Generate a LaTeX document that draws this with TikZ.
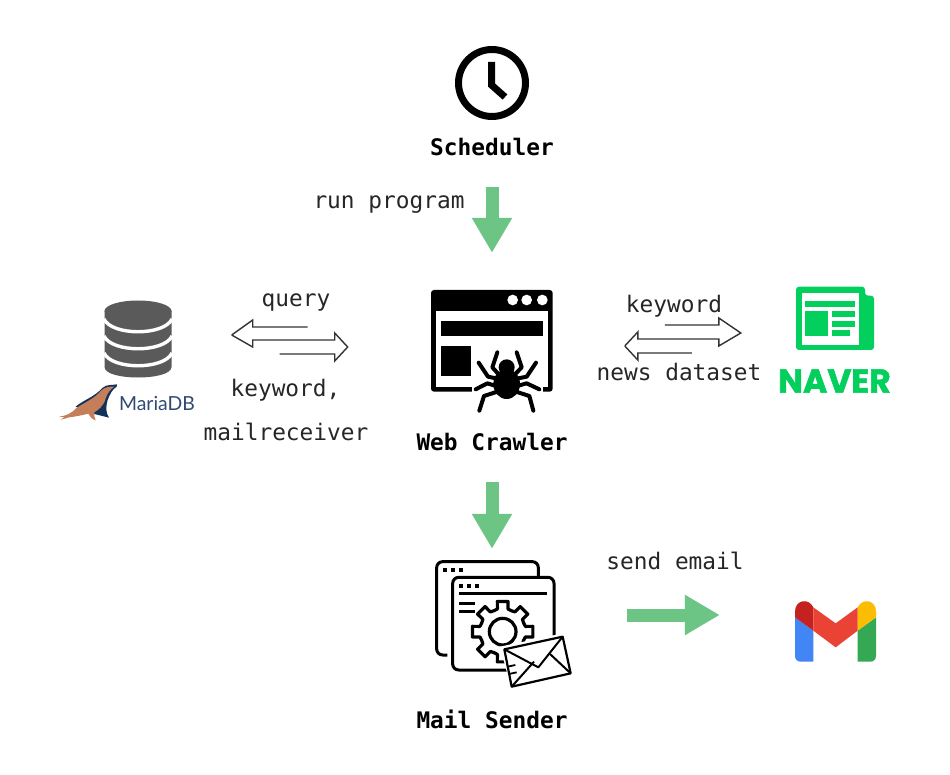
\documentclass[tikz,border=0pt]{standalone}
\usepackage{fontspec}
\setmonofont{DejaVu Sans Mono}
\newfontfamily\mariafont{Lato}
\newfontfamily\naverfont[BoldFeatures={FakeBold=1.6}]{Poppins}
\usetikzlibrary{arrows.meta,calc}
\definecolor{flowgreen}{HTML}{6CC585}
\definecolor{navergreen}{HTML}{03CF5D}
\definecolor{dbgray}{HTML}{5A5A5A}
\definecolor{mariablue}{HTML}{2F4A73}
\definecolor{sealbrown}{HTML}{C47F5A}
\definecolor{sealdark}{HTML}{12325A}
\tikzset{
  lbl/.style={inner sep=0pt,font=\ttfamily\fontsize{22.8}{27}\selectfont,text=black!85},
  title/.style={inner sep=0pt,font=\ttfamily\bfseries\fontsize{22.8}{27}\selectfont,text=black},
  flow/.style={draw=flowgreen,line width=13pt,-{Triangle[length=35pt,width=38pt]}},
  hollow/.style={draw=black!80,line width=1.4pt,line join=miter},
  leg/.style={line width=4pt,line cap=round,line join=round,black},
  thin/.style={draw=black,line width=3pt},
}
\begin{document}
\begin{tikzpicture}[x=1pt,y=-1pt]
\useasboundingbox (0,0) rectangle (950,775);
\fill[white] (0,0) rectangle (950,775);

% labels
\node[title] (schedlabel) at (492,147) {Scheduler};
\node[title] (crawlerlabel) at (492,442) {Web Crawler};
\node[title] (maillabel) at (492,719) {Mail Sender};
\node[lbl] (runlabel) at (389,205) {run program};
\node[lbl] (querylabel) at (296,303) {query};
\node[lbl] (kwlabel) at (285.5,390) {keyword,};
\node[lbl] (mrlabel) at (286,432) {mailreceiver};
\node[lbl] (kwlabelb) at (674,306) {keyword};
\node[lbl] (newslabel) at (679,372) {news dataset};
\node[lbl] (sendlabel) at (675,560.5) {send email};

% anchor boxes of the icons
\node[inner sep=0pt,minimum width=122pt,minimum height=122pt] (crawler) at (492,351) {};
\node[inner sep=0pt,minimum width=114pt,minimum height=110pt] (sender) at (492,615) {};
\node[inner sep=0pt,minimum width=82pt,minimum height=62pt] (gmail) at (835,631) {};
\node[inner sep=0pt,minimum width=67pt,minimum height=77pt] (db) at (138,339) {};
\node[inner sep=0pt,minimum width=78pt,minimum height=64pt] (naverbox) at (834,318) {};

% green arrows
\draw[flow,shorten <=31pt,shorten >=37pt] (schedlabel.south) -- (crawler.north);
\draw[flow,shorten <=31pt,shorten >=11pt] (crawlerlabel.south) -- (sender.north);
\draw[flow,shorten <=78pt,shorten >=74pt] (sender.east) -- (sender.east -| gmail.west);

% hollow arrows: database side
\coordinate (dbport) at ($(db.east)+(60,-4)$);
\draw[hollow] (dbport) -- ++(21,-15) -- ++(0,7) -- ++(55,0);
\draw[hollow] (dbport) -- ++(21,12) -- ++(0,-7) -- ++(82,0) -- ++(0,-7) -- ++(13,14) -- ++(-13,14) -- ++(0,-7) -- ++(-55,0);
% hollow arrows: naver side
\coordinate (nvport) at ($(naverbox.west)+(-170,28)$);
\draw[hollow] (nvport) -- ++(13,-14) -- ++(0,7) -- ++(81,0) -- ++(0,7) -- ++(22,-13) -- ++(-22,-15) -- ++(0,7) -- ++(-54,0);
\draw[hollow] (nvport) -- ++(13,14) -- ++(0,-7) -- ++(54,0);

% clock
\draw[black,line width=7pt] (492,83) circle[radius=33.5];
\draw[black,line width=7pt,line join=miter] (491.5,62) -- (491.5,85) -- (505,97);

% crawler icon
\begin{scope}[shift={(410,280)},scale=1/3]
  \fill[black,rounded corners=3pt] (63,30) rectangle (428,335);
  \fill[white] (78,92) rectangle (413,320);
  \fill[white] (185,320) rectangle (398,336);
  \foreach \cx in {308,350,397} \fill[white] (\cx,60) circle[radius=16];
  \fill[black] (93,122) rectangle (398,167);
  \fill[black] (93,198) rectangle (184,288);
  \fill[black] (290,312) ellipse[x radius=40,y radius=45];
  \fill[black] (290,262) circle[radius=24];
  \draw[leg] (262,217) -- (247,262) -- (265,282);
  \draw[leg] (320,217) -- (335,262) -- (316,282);
  \draw[leg] (206,248) -- (234,290) -- (262,296);
  \draw[leg] (378,248) -- (350,290) -- (320,296);
  \draw[leg] (197,328) -- (232,310) -- (258,318);
  \draw[leg] (388,328) -- (350,310) -- (322,318);
  \draw[leg] (208,392) -- (222,348) -- (262,335);
  \draw[leg] (370,392) -- (358,348) -- (318,335);
\end{scope}

% sender icon
\begin{scope}[shift={(410,550)},scale=1/3]
  \draw[thin,rounded corners=6pt] (385,82) -- (385,35) -- (80,35) -- (80,315) -- (112,315);
  \draw[thin,rounded corners=6pt,fill=white] (128,82) rectangle (432,360);
  \foreach \dx in {105,128,153} \fill[black] (\dx-6,54) rectangle (\dx+6,66);
  \foreach \dx in {153,177,202} \fill[black] (\dx-6,101) rectangle (\dx+6,113);
  \fill[black] (147,126) rectangle (412,136);
  \fill[black] (147,155) rectangle (195,165);
  \fill[black] (147,180) rectangle (195,190);
  \begin{scope}[shift={(278,245)}]
    \foreach \a in {0,45,...,315}
      \draw[black,line width=3.2pt,line join=round,line cap=round]
        ({\a-22.5}:68) -- ({\a-13}:70) -- ({\a-10}:92) -- ({\a+10}:92) -- ({\a+13}:70) -- ({\a+22.5}:68);
    \draw[black,line width=3.2pt] (0,0) circle[radius=40];
  \end{scope}
  \fill[white] (270,290) -- (458,250) -- (490,375) -- (305,420) -- cycle;
  \draw[black,line width=2.2pt,fill=white,line join=round] (283,298) -- (458,260) -- (482,370) -- (305,410) -- cycle;
  \draw[black,line width=2pt,line join=round] (283,298) -- (385,352) -- (458,260);
  \draw[black,line width=2pt] (305,410) -- (372,335);
  \draw[black,line width=2pt] (482,370) -- (420,312);
  \draw[black,line width=1.8pt] (293,350) -- (316,345);
  \draw[black,line width=1.8pt] (297,372) -- (320,367);
\end{scope}

% database icon
\fill[dbgray] (104.5,311) -- (171.5,311) -- (171.5,367)
   .. controls (171.5,381) and (104.5,381) .. (104.5,367) -- cycle;
\fill[dbgray] (138,311) ellipse[x radius=33.5,y radius=10.5];
\foreach \yy in {319,336,353}
  \draw[white,line width=3.4pt] (104,\yy) .. controls (112,\yy+17) and (164,\yy+17) .. (172,\yy);

% seal and MariaDB
\begin{scope}[shift={(55,380)},scale=1/3]
  \fill[sealdark] (62,80) .. controls (85,60) and (120,50) .. (142,24)
     .. controls (155,12) and (172,16) .. (186,13) -- (185,20)
     .. controls (172,28) and (165,42) .. (158,60) .. controls (152,80) and (152,98) .. (162,113)
     -- (134,106) -- (110,100) -- cycle;
  \fill[sealbrown] (13,110) .. controls (30,108) and (48,102) .. (64,84)
     .. controls (88,68) and (118,56) .. (138,32)
     .. controls (148,22) and (162,19) .. (178,20)
     .. controls (165,29) and (157,40) .. (152,55)
     .. controls (146,78) and (130,90) .. (118,97)
     .. controls (117,105) and (118,113) .. (122,121)
     .. controls (111,118) and (104,110) .. (100,101)
     .. controls (80,106) and (60,110) .. (42,112)
     .. controls (35,114) and (25,118) .. (17,119)
     .. controls (20,116) and (25,114) .. (28,112) -- cycle;
\end{scope}
\node[inner sep=0pt,font=\mariafont\fontsize{19.4}{24}\selectfont,text=mariablue] (mariadb) at (157,403.5) {MariaDB};

% naver icon
\begin{scope}[shift={(600,280)},scale=1/3]
  \fill[navergreen,rounded corners=3pt] (588,20) -- (795,20) -- (795,47) -- (822,47) -- (822,210) -- (588,210) -- cycle;
  \fill[white] (606,38) rectangle (778,194);
  \fill[navergreen] (615,63) rectangle (765,80);
  \fill[navergreen] (615,93) rectangle (684,168);
  \fill[navergreen] (696,93) rectangle (765,110);
  \fill[navergreen] (696,123) rectangle (765,141);
  \fill[navergreen] (696,150) rectangle (750,168);
\end{scope}
\node[inner sep=0pt,text=navergreen,font=\naverfont\bfseries\fontsize{33}{36}\selectfont] (naver) at (834.5,381) {NAVER};

% gmail icon
\begin{scope}[shift={(780,590)},scale=1/3]
  \definecolor{gblue}{HTML}{4285F4}
  \definecolor{gred}{HTML}{EA4335}
  \definecolor{gdark}{HTML}{C5221F}
  \definecolor{gyellow}{HTML}{FBBC04}
  \definecolor{ggreen}{HTML}{34A853}
  \fill[gblue] (45,82) -- (100,122) -- (100,215) -- (62,215) .. controls (52,215) and (45,208) .. (45,198) -- cycle;
  \fill[ggreen] (233,122) -- (288,82) -- (288,198) .. controls (288,208) and (281,215) .. (271,215) -- (233,215) -- cycle;
  \fill[gdark] (45,82) -- (45,65) .. controls (45,30) and (85,22) .. (100,52) -- (100,122) -- cycle;
  \fill[gyellow] (288,82) -- (288,65) .. controls (288,30) and (248,22) .. (233,52) -- (233,122) -- cycle;
  \fill[gred] (100,52) -- (167,100) -- (233,52) -- (233,122) -- (167,172) -- (100,122) -- cycle;
\end{scope}
\end{tikzpicture}
\end{document}
